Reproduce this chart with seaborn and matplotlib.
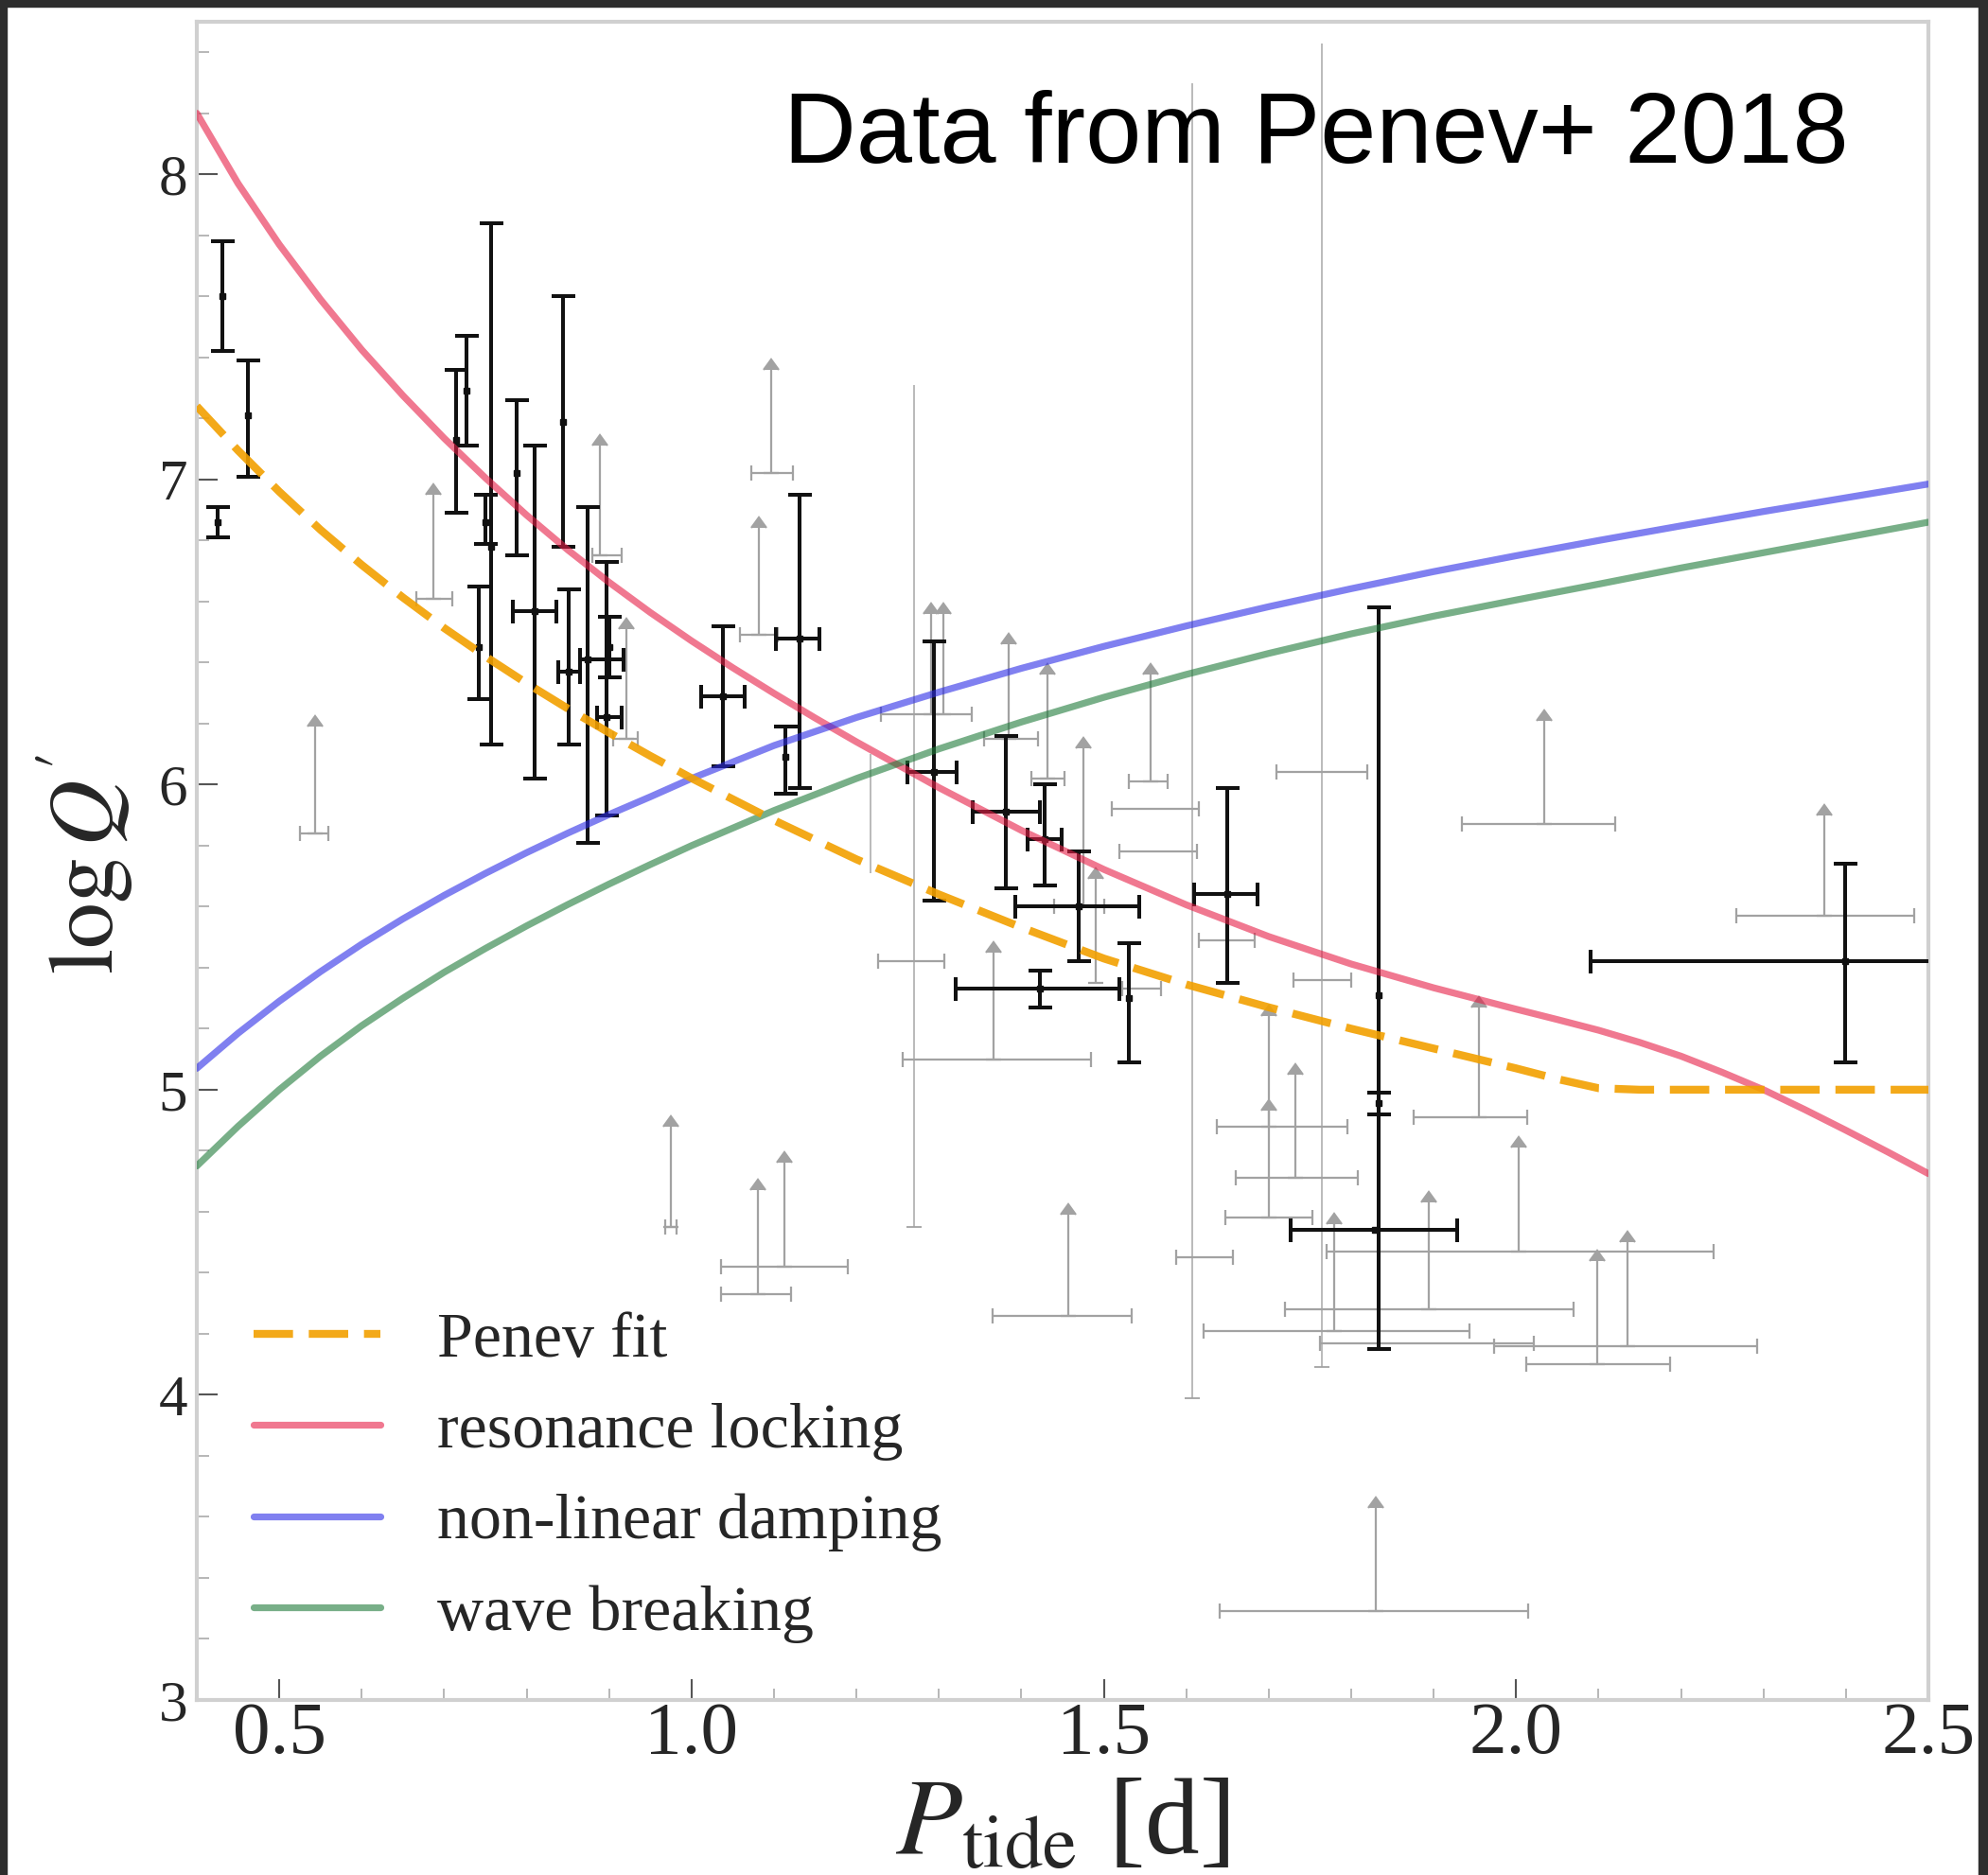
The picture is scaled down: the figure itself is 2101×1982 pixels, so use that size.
import numpy as np
import pandas as pd
import matplotlib
matplotlib.use("Agg")
import matplotlib.pyplot as plt
import seaborn as sns
from matplotlib.patches import Rectangle
from matplotlib.ticker import MultipleLocator, FormatStrFormatter

# ---------------- model curves ----------------
penev_x = [0.40, 0.45, 0.50, 0.55, 0.60, 0.65, 0.70, 0.75, 0.80, 0.85, 0.90, 0.95, 1.00,
           1.10, 1.20, 1.30, 1.40, 1.50, 1.60, 1.70, 1.80, 1.90, 2.00, 2.05, 2.10, 2.15,
           2.20, 2.30, 2.40, 2.50]
penev_y = [7.24, 7.095, 6.96, 6.835, 6.72, 6.613, 6.513, 6.42, 6.332, 6.249, 6.17, 6.094, 6.021,
           5.883, 5.755, 5.64, 5.532, 5.43, 5.345, 5.27, 5.20, 5.135, 5.07, 5.035, 5.005, 5.0,
           5.0, 5.0, 5.0, 5.0]

reslock_x = [0.40, 0.45, 0.50, 0.55, 0.60, 0.65, 0.70, 0.75, 0.80, 0.85, 0.90, 0.95, 1.00, 1.05,
             1.10, 1.15, 1.20, 1.30, 1.40, 1.50, 1.60, 1.70, 1.80, 1.90, 2.00, 2.05, 2.10, 2.15,
             2.20, 2.25, 2.30, 2.35, 2.40, 2.45, 2.50]
reslock_y = [8.20, 7.97, 7.77, 7.59, 7.425, 7.275, 7.135, 7.005, 6.883, 6.769, 6.663, 6.564,
             6.471, 6.383, 6.299, 6.218, 6.14, 5.99, 5.85, 5.722, 5.606, 5.502, 5.412, 5.334,
             5.264, 5.23, 5.195, 5.155, 5.11, 5.057, 5.00, 4.935, 4.867, 4.797, 4.725]

nonlin_x = [0.40, 0.45, 0.50, 0.55, 0.60, 0.65, 0.70, 0.75, 0.80, 0.85, 0.90, 0.95, 1.00,
            1.10, 1.20, 1.30, 1.40, 1.50, 1.60, 1.70, 1.80, 1.90, 2.00, 2.10, 2.20, 2.30, 2.40, 2.50]
nonlin_y = [5.07, 5.185, 5.29, 5.387, 5.477, 5.56, 5.637, 5.709, 5.777, 5.841, 5.902, 5.96, 6.02,
            6.128, 6.22, 6.303, 6.381, 6.453, 6.52, 6.583, 6.642, 6.698, 6.75, 6.80, 6.848,
            6.895, 6.94, 6.985]

wave_x = [0.40, 0.45, 0.50, 0.55, 0.60, 0.65, 0.70, 0.75, 0.80, 0.85, 0.90, 0.95, 1.00,
          1.10, 1.20, 1.30, 1.40, 1.50, 1.60, 1.70, 1.80, 1.90, 2.00, 2.10, 2.20, 2.30, 2.40, 2.50]
wave_y = [4.75, 4.88, 5.00, 5.11, 5.21, 5.30, 5.385, 5.463, 5.537, 5.607, 5.674, 5.738, 5.80,
          5.915, 6.02, 6.117, 6.205, 6.286, 6.361, 6.43, 6.494, 6.552, 6.605, 6.657, 6.71,
          6.76, 6.81, 6.86]

legend_labels = ["Penev fit", "resonance locking", "non-linear damping", "wave breaking"]

# ---------------- measured systems (black) ----------------
blk_x   = [0.431, 0.425, 0.462, 0.714, 0.727, 0.742, 0.757, 0.750, 0.788, 0.810, 0.844, 0.851,
           0.874, 0.897, 0.900, 1.038, 1.114, 1.131, 1.294, 1.381, 1.428, 1.470, 1.422, 1.530,
           1.650, 1.833, 1.833, 1.829, 2.399]
blk_y   = [7.60, 6.86, 7.21, 7.13, 7.29, 6.45, 6.78, 6.86, 7.02, 6.57, 7.19, 6.37,
           6.41, 6.22, 6.45, 6.29, 6.09, 6.48, 6.04, 5.91, 5.82, 5.60, 5.33, 5.30,
           5.64, 5.31, 4.955, 4.54, 5.42]
blk_ylo = [7.42, 6.81, 7.01, 6.89, 7.11, 6.28, 6.13, 6.79, 6.75, 6.02, 6.78, 6.13,
           5.81, 5.90, 6.35, 6.06, 5.97, 5.99, 5.62, 5.66, 5.67, 5.42, 5.27, 5.09,
           5.35, 4.15, 4.92, np.nan, 5.09]
blk_yhi = [7.78, 6.91, 7.39, 7.36, 7.47, 6.65, 7.84, 6.95, 7.26, 7.11, 7.60, 6.64,
           6.91, 6.73, 6.55, 6.52, 6.19, 6.95, 6.47, 6.16, 6.00, 5.78, 5.39, 5.48,
           5.99, 6.58, 4.99, np.nan, 5.74]
blk_xlo = [np.nan, np.nan, np.nan, np.nan, np.nan, np.nan, np.nan, np.nan, np.nan, 0.783, np.nan, 0.838,
           0.865, 0.885, np.nan, 1.012, np.nan, 1.102, 1.262, 1.341, 1.408, 1.393, 1.320, np.nan,
           1.610, np.nan, np.nan, 1.727, 2.090]
blk_xhi = [np.nan, np.nan, np.nan, np.nan, np.nan, np.nan, np.nan, np.nan, np.nan, 0.836, np.nan, 0.865,
           0.917, 0.915, np.nan, 1.064, np.nan, 1.155, 1.322, 1.422, 1.449, 1.543, 1.519, np.nan,
           1.686, np.nan, np.nan, 1.928, 2.520]

# ---------------- lower limits (grey) ----------------
gry_x   = [0.543, 0.687, 0.889, 0.921, 0.975, 1.080, 1.113, 1.082, 1.097, 1.290, 1.305, 1.265,
           1.366, 1.385, 1.432, 1.475, 1.490, 1.457, 1.557, 1.557, 1.557, 1.545, 1.650, 1.764,
           1.765, 1.700, 1.732, 1.700, 1.955, 2.034, 2.003, 1.894, 1.779, 1.894, 2.135, 2.098,
           2.374, 1.830, 1.622]
gry_y   = [5.84, 6.61, 6.75, 6.15, 4.55, 4.33, 4.42, 6.49, 7.02, 6.23, 6.23, 5.42,
           5.10, 6.15, 6.02, 5.60, 5.35, 4.26, 6.01, 5.92, 5.78, 5.33, 5.49, 6.04,
           5.36, 4.88, 4.71, 4.58, 4.91, 5.87, 4.47, 4.28, 4.21, 4.17, 4.16, 4.10,
           5.57, 3.29, 4.45]
gry_xlo = [0.525, 0.666, 0.880, 0.905, 0.968, 1.036, 1.036, 1.059, 1.072, 1.230, np.nan, 1.226,
           1.256, 1.355, 1.412, 1.440, np.nan, 1.365, 1.530, 1.510, 1.519, 1.522, 1.615, 1.709,
           1.730, 1.637, 1.660, 1.647, 1.876, 1.934, 1.770, 1.720, 1.621, 1.762, 1.973, 2.012,
           2.267, 1.640, 1.588]
gry_xhi = [0.560, 0.710, 0.915, 0.935, 0.982, 1.121, 1.190, 1.105, 1.123, 1.340, np.nan, 1.307,
           1.484, 1.420, 1.452, 1.500, np.nan, 1.534, 1.577, 1.615, 1.613, 1.569, 1.683, 1.820,
           1.800, 1.795, 1.808, 1.753, 2.013, 2.120, 2.240, 2.070, 1.943, 2.022, 2.292, 2.187,
           2.483, 2.015, 1.657]
gry_top = [6.19, 6.95, 7.11, 6.51, 4.88, 4.67, 4.76, 6.84, 7.36, 6.56, 6.56, np.nan,
           5.45, 6.46, 6.36, 6.12, 5.69, 4.59, 6.36, np.nan, np.nan, np.nan, np.nan, np.nan,
           np.nan, 5.24, 5.05, 4.93, 5.27, 6.21, 4.81, 4.63, 4.56, np.nan, 4.50, 4.44,
           5.90, 3.63, np.nan]

# long, unconstrained grey ranges
vline_x  = [1.270, 1.607, 1.764, 1.217]
vline_lo = [4.55, 3.99, 4.09, 5.71]
vline_hi = [7.31, 8.30, 8.43, 6.10]

# ---------------- style ----------------
sns.set_theme(style="white")
plt.rcParams["font.family"] = ["Liberation Serif", "DejaVu Serif"]
plt.rcParams["mathtext.fontset"] = "stix"

W, H = 2101, 1982
fig = plt.figure(figsize=(W / 100, H / 100), dpi=100)
fig.patch.set_facecolor("white")
L, R, T, B = 208, 2038, 23, 1797
ax = fig.add_axes([L / W, 1 - B / H, (R - L) / W, (B - T) / H])
ax.set_facecolor("white")

GREY = "#a2a2a2"
for i in range(len(gry_x)):
    xe = None
    if not np.isnan(gry_xlo[i]):
        xe = [[gry_x[i] - gry_xlo[i]], [gry_xhi[i] - gry_x[i]]]
    ye = None
    lol = False
    if not np.isnan(gry_top[i]):
        ye = [[0.0], [gry_top[i] - gry_y[i]]]
        lol = True
    ax.errorbar([gry_x[i]], [gry_y[i]], xerr=xe, yerr=ye, lolims=lol, fmt="none",
                color=GREY, ecolor=GREY, elinewidth=1.6, capsize=5.5, capthick=1.6,
                zorder=1)
ax.vlines(vline_x, vline_lo, vline_hi, color=GREY, lw=1.3, zorder=1, alpha=0.8)
ax.scatter(vline_x[:3], vline_lo[:3], marker="_", s=120, color=GREY, lw=1.3, zorder=1)

# recolour the limit carets grey
for ln in ax.get_lines():
    ln.set_markerfacecolor(GREY)
    ln.set_markeredgecolor(GREY)

BLK = "#111111"
for i in range(len(blk_x)):
    xe = None
    if not np.isnan(blk_xlo[i]):
        xe = [[blk_x[i] - blk_xlo[i]], [blk_xhi[i] - blk_x[i]]]
    ye = None
    if not np.isnan(blk_ylo[i]):
        ye = [[blk_y[i] - blk_ylo[i]], [blk_yhi[i] - blk_y[i]]]
    ax.errorbar([blk_x[i]], [blk_y[i]], xerr=xe, yerr=ye, fmt="s", ms=4, color=BLK,
                ecolor=BLK, elinewidth=2.9, capsize=9, capthick=2.9, zorder=3)

n_before = len(ax.get_lines())
# curves (drawn on top, semi-transparent)
sns.lineplot(x=reslock_x, y=reslock_y, ax=ax, color="#e61e46", alpha=0.6, lw=5.2, zorder=4)
sns.lineplot(x=nonlin_x, y=nonlin_y, ax=ax, color="#2b2be6", alpha=0.6, lw=5.2, zorder=4)
sns.lineplot(x=wave_x, y=wave_y, ax=ax, color="#1e7b39", alpha=0.6, lw=5.2, zorder=4)
sns.lineplot(x=penev_x, y=penev_y, ax=ax, color="#f2a000", alpha=0.9, lw=6.0,
             linestyle=(0, (5.0, 2.0)), zorder=5)
curve_lines = ax.get_lines()[n_before:]
handles = [curve_lines[3], curve_lines[0], curve_lines[1], curve_lines[2]]

ax.set_xlim(0.4, 2.5)
ax.set_ylim(3.0, 8.5)
ax.xaxis.set_major_locator(MultipleLocator(0.5))
ax.xaxis.set_minor_locator(MultipleLocator(0.1))
ax.yaxis.set_major_locator(MultipleLocator(1.0))
ax.yaxis.set_minor_locator(MultipleLocator(0.2))
ax.xaxis.set_major_formatter(FormatStrFormatter("%.1f"))
ax.yaxis.set_major_formatter(FormatStrFormatter("%d"))
ax.tick_params(axis="both", which="both", direction="in", top=False, right=False,
               bottom=True, left=True)
ax.tick_params(axis="both", which="major", length=16, width=1.5, color="#555555")
ax.tick_params(axis="both", which="minor", length=9, width=1.2, color="#aaaaaa")
ax.tick_params(axis="x", which="major", labelsize=57, pad=1)
ax.tick_params(axis="y", which="major", labelsize=44, pad=7)
for s in ax.spines.values():
    s.set_color("#d0d0d0")
    s.set_linewidth(3)
    s.set_visible(True)

ax.set_xlabel(r"$P_{\rm tide}$ [d]", fontsize=83)
ax.xaxis.set_label_coords(0.5, -0.047)
ax.set_ylabel(r"$\log Q^{\prime}$", fontsize=70, va="center")
ax.yaxis.set_label_coords(-0.0645, 0.498)

ax.legend(handles, legend_labels, loc="lower left", bbox_to_anchor=(0.0328, 0.034),
          frameon=False, fontsize=49, handlelength=1.97, handletextpad=0.88,
          labelspacing=0.51, borderpad=0, borderaxespad=0)

fig.text(1954 / W, 1 - 172 / H, "Data from Penev+ 2018", ha="right", va="baseline",
         fontsize=76.5, family="Liberation Sans", color="black")

# dark screenshot frame
DARK = "#2d2d2d"
fig.patches.append(Rectangle((0, 1 - 7 / H), 1, 7 / H, transform=fig.transFigure,
                             color=DARK, zorder=10))
fig.patches.append(Rectangle((0, 0), 7 / W, 1, transform=fig.transFigure,
                             color=DARK, zorder=10))
fig.patches.append(Rectangle((2091 / W, 0), 10 / W, 1, transform=fig.transFigure,
                             color=DARK, zorder=10))

fig.savefig("out.png", dpi=100, facecolor="white")
